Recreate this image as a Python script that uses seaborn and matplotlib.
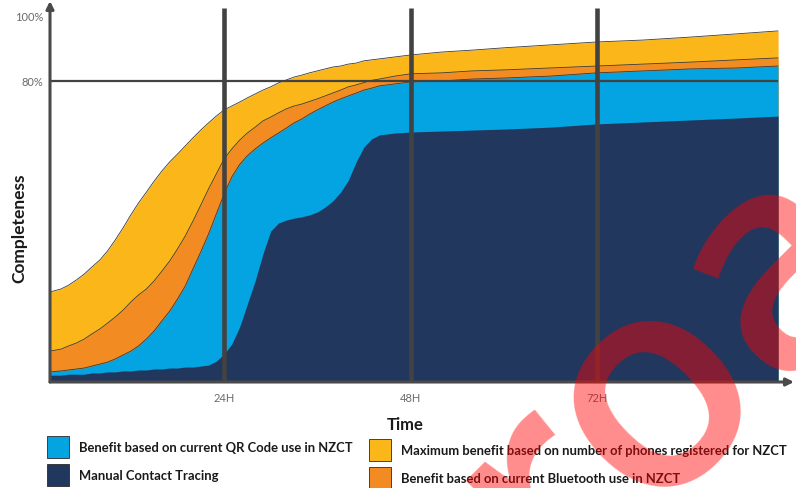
import matplotlib
matplotlib.use("Agg")
import numpy as np
import pandas as pd
import matplotlib.pyplot as plt
import seaborn as sns
from matplotlib.patches import Patch
from matplotlib.font_manager import FontProperties
from matplotlib.textpath import TextPath

# ---------------- data ----------------
hours = [1.6, 3, 4, 5, 6, 7, 8, 9, 10, 11,
         12, 13, 14, 15, 16, 17, 18, 19, 20, 21,
         22, 23, 24, 25, 26, 27, 28, 29, 30, 31,
         32, 33, 34, 35, 36, 37, 38, 39, 40, 41,
         42, 43, 44, 46, 48,
         52, 56, 60, 66, 72, 78, 84, 90, 95.3]
max_phones = [15.1, 16.0, 17.2, 18.8, 20.6, 22.8, 24.9, 27.7, 31.1, 34.8,
              38.8, 42.5, 45.8, 49.2, 52.3, 55.1, 57.5, 60.0, 62.5, 64.9,
              67.1, 69.2, 71.1, 72.3, 73.5, 74.8, 76.0, 77.2, 78.2, 79.4,
              80.3, 81.2, 81.8, 82.5, 83.1, 83.7, 84.3, 84.6, 85.2, 85.5,
              86.2, 86.5, 86.8, 87.4, 88.0,
              88.9, 89.5, 90.2, 91.1, 92.0, 92.6, 93.5, 94.5, 95.4]
bluetooth = [-3.1, -2.5, -1.5, -0.6, 0.6, 2.2, 3.7, 5.5, 7.4, 9.5,
             12.0, 14.2, 16.0, 18.5, 21.5, 24.6, 28.3, 32.3, 36.9, 41.8,
             46.8, 51.4, 56.0, 59.1, 61.8, 64.0, 65.8, 67.7, 68.9, 70.2,
             71.4, 72.3, 72.9, 73.7, 74.5, 75.4, 76.3, 77.2, 78.2, 78.8,
             79.5, 80.2, 80.6, 81.5, 82.2,
             82.5, 83.1, 83.4, 84.0, 84.6, 85.2, 85.8, 86.5, 87.1]
qr_code = [-9.5, -9.2, -8.9, -8.6, -8.3, -7.7, -7.1, -6.5, -5.5, -4.3,
           -3.1, -1.5, 0.6, 3.1, 6.2, 9.2, 12.9, 16.9, 22.2, 27.4,
           32.9, 39.1, 45.2, 50.5, 54.3, 57.0, 59.1, 60.9, 62.5, 64.0,
           65.5, 67.1, 68.3, 69.8, 71.1, 72.3, 73.5, 74.5, 75.4, 76.3,
           77.2, 77.8, 78.5, 79.1, 79.7,
           80.0, 80.6, 80.9, 81.5, 82.5, 83.1, 83.7, 84.0, 84.6]
manual = [-10.5, -10.5, -10.2, -10.2, -10.2, -9.8, -9.8, -9.5, -9.5, -9.2,
          -9.2, -8.9, -8.9, -8.6, -8.6, -8.3, -8.3, -8.0, -8.0, -7.7,
          -7.4, -6.2, -4.0, -0.9, 4.3, 11.4, 18.5, 26.8, 33.8, 36.3,
          37.2, 37.8, 38.2, 38.8, 39.7, 41.2, 43.1, 45.8, 49.5, 55.1,
          59.7, 62.2, 63.4, 64.0, 64.3,
          64.6, 64.9, 65.2, 65.8, 66.8, 67.4, 68.0, 68.6, 69.2]

x_ticks = [24, 48, 72]
x_tick_labels = ["24H", "48H", "72H"]
y_ticks = [80, 100]
y_tick_labels = ["80%", "100%"]
target_level = 80

labels_left = ["Benefit based on current QR Code use in NZCT", "Manual Contact Tracing"]
labels_right = ["Maximum benefit based on number of phones registered for NZCT",
                "Benefit based on current Bluetooth use in NZCT"]

# ---------------- style ----------------
C_Y, C_O, C_B, C_N = "#FBB619", "#F18B22", "#03A4E1", "#22375E"
GRAY = "#424242"

sns.set_theme(style="white")
plt.rcParams["font.family"] = ["Lato", "DejaVu Sans"]

W, H, DPI = 796, 489, 100
fig = plt.figure(figsize=(W / DPI, H / DPI), dpi=DPI)
ax = fig.add_axes([50 / W, (H - 383) / H, 744 / W, 381 / H])

XMIN, XMAX = hours[0], 97.35
YMIN, YMAX = -12.6, 104.6

df = pd.DataFrame({"hours": hours, "max": max_phones, "bt": bluetooth,
                   "qr": qr_code, "manual": manual})

for col, c in [("max", C_Y), ("bt", C_O), ("qr", C_B), ("manual", C_N)]:
    ax.fill_between(df["hours"], YMIN, df[col], color=c, lw=0, zorder=1)
for col in ["max", "bt", "qr"]:
    sns.lineplot(data=df, x="hours", y=col, color="#3a3a3a", lw=0.6, ax=ax,
                 sort=False, estimator=None, zorder=2)

ax.vlines(x_ticks, YMIN, 102.5, color=GRAY, lw=3.3, zorder=3)
ax.hlines(target_level, XMIN, hours[-1], color=GRAY, lw=1.6, zorder=3)

arrow = dict(arrowstyle="-|>", color="#4a4a4a", lw=2.2, mutation_scale=11,
             shrinkA=0, shrinkB=0)
ax.annotate("", xy=(XMIN, YMAX), xytext=(XMIN, YMIN), arrowprops=arrow,
            annotation_clip=False, zorder=4)
ax.annotate("", xy=(XMAX, YMIN), xytext=(XMIN, YMIN), arrowprops=arrow,
            annotation_clip=False, zorder=4)

ax.set_xlim(XMIN, XMAX)
ax.set_ylim(YMIN, YMAX)
for s in ax.spines.values():
    s.set_visible(False)
ax.grid(False)
ax.set_xticks(x_ticks, x_tick_labels)
ax.set_yticks(y_ticks, y_tick_labels)
ax.tick_params(axis="both", length=0, labelsize=8, labelcolor="#6a6a6a")
ax.tick_params(axis="x", pad=7)
ax.tick_params(axis="y", pad=5)

ax.set_xlabel("Time", fontsize=12, fontweight="bold", color="#1a1a1a")
ax.xaxis.set_label_coords(0.477, -0.089)
ax.set_ylabel("Completeness", fontsize=12.5, fontweight="bold", color="#1a1a1a")
ax.yaxis.set_label_coords(-0.031, 0.405)

# ---------------- legends ----------------
leg_kw = dict(loc="upper left", frameon=False, prop={"weight": "bold", "size": 9.4},
              handlelength=1.69, handleheight=2.22, handletextpad=0.77,
              labelspacing=0.45, borderpad=0, borderaxespad=0, labelcolor="#1a1a1a")
h_left = [Patch(fc=C_B, ec="#2a2a2a", lw=0.6), Patch(fc=C_N, ec="#2a2a2a", lw=0.6)]
h_right = [Patch(fc=C_Y, ec="#2a2a2a", lw=0.6), Patch(fc=C_O, ec="#2a2a2a", lw=0.6)]
fig.legend(h_left, labels_left, bbox_to_anchor=(47 / W, 1 - 437 / H), **leg_kw)
fig.legend(h_right, labels_right, bbox_to_anchor=(369 / W, 1 - 440 / H), **leg_kw)

# ---------------- watermark ----------------
WM = "Proactively Released"
ROT, FS = 45, 215
fp = FontProperties(family="Open Sans", weight="semibold", size=FS)
size_px = FS * DPI / 72
ext_pro = TextPath((0, 0), "Pro", size=size_px, prop=fp).get_extents()
ext_o = TextPath((0, 0), "o", size=size_px, prop=fp).get_extents()
cx = ext_pro.x1 - ext_o.width / 2
cy = (ext_o.y0 + ext_o.y1) / 2
th = np.radians(ROT)
rx = cx * np.cos(th) - cy * np.sin(th)
ry = cx * np.sin(th) + cy * np.cos(th)
tx, ty = 658, H - 404
fig.text((tx - rx) / W, (ty - ry) / H, WM, fontproperties=fp, color="red",
         alpha=0.45, rotation=ROT, rotation_mode="anchor", ha="left",
         va="baseline", zorder=10)

fig.savefig("out.png", dpi=DPI)
